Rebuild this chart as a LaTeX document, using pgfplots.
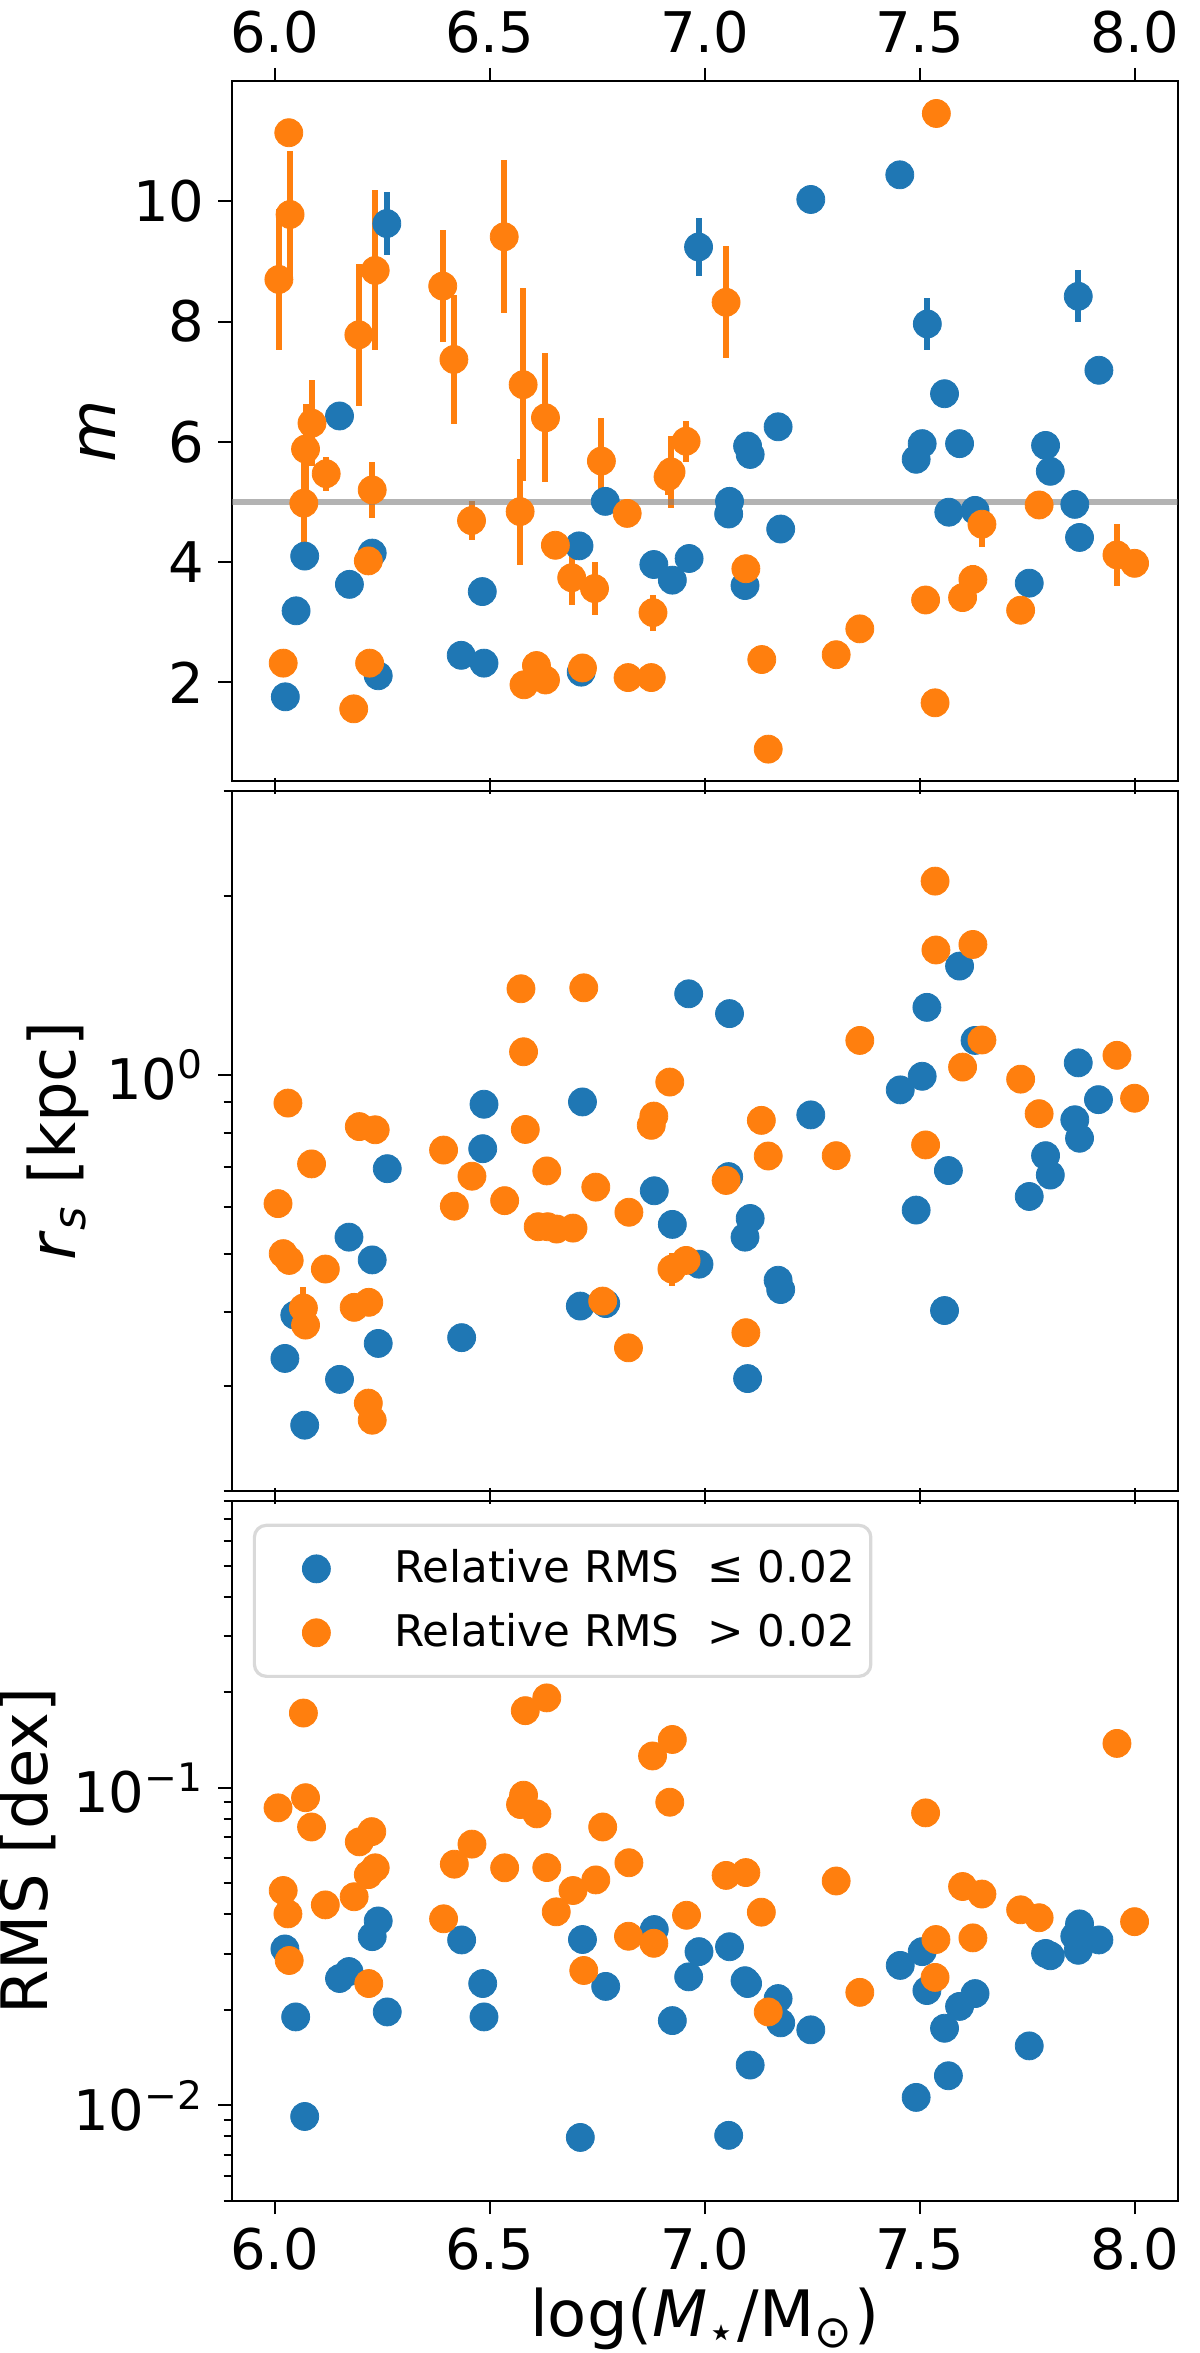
\documentclass[border=0pt]{standalone}
\usepackage{fontspec}
\setmainfont{DejaVu Sans}
\usepackage{pgfplots}
\pgfplotsset{compat=1.18}
\usepgfplotslibrary{groupplots}
\usetikzlibrary{calc}
\definecolor{cblue}{HTML}{1F77B4}
\definecolor{corange}{HTML}{FF7F0E}

\pgfplotstableread{
x y e
6.025 1.76 0
6.050 3.19 0
6.070 4.10 0
6.151 6.43 0
6.174 3.63 0
6.227 4.15 0
6.241 2.11 0
6.261 9.63 0.53
6.434 2.45 0
6.483 3.51 0
6.487 2.32 0
6.708 4.27 0
6.713 2.17 0
6.769 5.01 0
6.882 3.96 0
6.925 3.70 0
6.964 4.06 0
6.986 9.24 0.48
7.056 4.80 0
7.058 5.01 0
7.094 3.61 0
7.100 5.93 0
7.106 5.79 0
7.171 6.25 0
7.177 4.55 0
7.247 10.03 0
7.454 10.44 0
7.492 5.71 0
7.506 5.97 0
7.518 7.96 0.44
7.558 6.80 0
7.568 4.83 0
7.593 5.97 0
7.629 4.86 0
7.755 3.65 0
7.793 5.94 0
7.804 5.51 0
7.861 4.96 0
7.869 8.42 0.43
7.872 4.41 0
7.917 7.19 0.13
}\mblue

\pgfplotstableread{
x y e
6.010 8.70 1.17
6.020 2.32 0
6.033 11.14 0
6.036 9.78 1.05
6.068 4.98 0.68
6.072 5.88 0.75
6.087 6.31 0.72
6.120 5.47 0.28
6.184 1.56 0
6.196 7.78 1.18
6.218 4.02 0
6.221 2.32 0
6.227 5.20 0.47
6.234 8.85 1.33
6.391 8.59 0.93
6.417 7.37 1.07
6.458 4.69 0.33
6.534 9.41 1.27
6.571 4.84 0.88
6.578 6.95 1.60
6.580 1.96 0
6.609 2.28 0
6.630 6.40 1.07
6.630 2.04 0
6.653 4.28 0
6.691 3.74 0.46
6.716 2.24 0
6.744 3.56 0.44
6.760 5.68 0.72
6.820 4.81 0
6.822 2.08 0
6.876 2.08 0
6.880 3.16 0.30
6.915 5.42 0.30
6.922 5.50 0.60
6.957 6.01 0.34
7.050 8.32 0.93
7.096 3.89 0
7.133 2.38 0
7.148 0.89 0
7.306 2.46 0
7.361 2.89 0
7.514 3.37 0
7.536 1.66 0
7.539 11.46 0
7.600 3.41 0
7.624 3.71 0.25
7.645 4.63 0.38
7.735 3.20 0
7.778 4.95 0
7.959 4.12 0.52
8.000 3.98 0
}\morange

\pgfplotstableread{
x y
6.024 0.334
6.047 0.395
6.070 0.258
6.151 0.308
6.173 0.534
6.227 0.489
6.241 0.354
6.262 0.696
6.435 0.362
6.487 0.893
6.484 0.752
6.711 0.409
6.716 0.901
6.770 0.413
6.883 0.639
6.925 0.561
6.963 1.369
6.987 0.481
7.056 0.675
7.058 1.268
7.094 0.534
7.100 0.309
7.106 0.574
7.171 0.452
7.177 0.436
7.247 0.857
7.455 0.944
7.492 0.593
7.506 0.995
7.517 1.299
7.558 0.402
7.567 0.691
7.593 1.524
7.629 1.143
7.755 0.625
7.793 0.732
7.804 0.679
7.861 0.841
7.869 1.048
7.872 0.783
7.916 0.909
}\rblue

\pgfplotstableread{
x y e
6.031 0.897 0
6.008 0.608 0
6.020 0.501 0
6.034 0.488 0
6.086 0.709 0
6.118 0.472 0
6.067 0.406 0.035
6.072 0.380 0
6.197 0.819 0
6.234 0.809 0
6.185 0.407 0
6.219 0.415 0
6.218 0.281 0
6.227 0.263 0
6.393 0.748 0
6.418 0.602 0
6.459 0.676 0
6.535 0.615 0
6.573 1.396 0
6.579 1.094 0
6.583 0.810 0
6.633 0.690 0
6.613 0.556 0
6.635 0.556 0
6.656 0.551 0
6.694 0.553 0
6.719 1.401 0
6.747 0.648 0
6.763 0.417 0
6.824 0.588 0
6.823 0.348 0
6.919 0.973 0
6.882 0.853 0
6.876 0.823 0
6.924 0.472 0.03
6.957 0.488 0
7.132 0.839 0
7.148 0.731 0
7.050 0.665 0
7.096 0.369 0
7.306 0.732 0
7.361 1.143 0
7.536 2.117 0
7.538 1.622 0
7.624 1.657 0
7.645 1.145 0
7.600 1.031 0
7.514 0.763 0
7.735 0.984 0
7.778 0.861 0
7.959 1.079 0
8.000 0.914 0
}\rorange

\pgfplotstableread{
x y
6.024 0.0311
6.049 0.0190
6.070 0.00923
6.151 0.0251
6.173 0.0264
6.227 0.0340
6.241 0.0381
6.262 0.0197
6.435 0.0332
6.484 0.0242
6.487 0.0190
6.711 0.00793
6.716 0.0333
6.770 0.0237
6.883 0.0358
6.925 0.0185
6.963 0.0254
6.987 0.0305
7.056 0.00805
7.058 0.0316
7.094 0.0247
7.100 0.0242
7.106 0.0134
7.171 0.0217
7.177 0.0182
7.247 0.0173
7.455 0.0276
7.492 0.0106
7.506 0.0305
7.517 0.0230
7.558 0.0175
7.567 0.0124
7.593 0.0205
7.629 0.0225
7.755 0.0154
7.793 0.0301
7.804 0.0296
7.861 0.0341
7.869 0.0308
7.872 0.0373
7.917 0.0332
}\sblue

\pgfplotstableread{
x y
6.008 0.0865
6.067 0.172
6.072 0.0931
6.086 0.0753
6.020 0.0475
6.031 0.0401
6.034 0.0286
6.118 0.0428
6.185 0.0454
6.197 0.0676
6.226 0.0728
6.218 0.0533
6.234 0.0560
6.219 0.0242
6.393 0.0387
6.418 0.0575
6.459 0.0665
6.535 0.0560
6.583 0.175
6.633 0.192
6.579 0.0948
6.572 0.0886
6.610 0.0828
6.633 0.0561
6.655 0.0407
6.694 0.0475
6.747 0.0513
6.763 0.0753
6.719 0.0266
6.824 0.0581
6.823 0.0341
6.879 0.126
6.925 0.142
6.919 0.0901
7.050 0.0530
7.096 0.0541
7.132 0.0406
6.958 0.0397
6.882 0.0324
7.148 0.0197
7.306 0.0509
7.361 0.0227
7.514 0.0834
7.600 0.0489
7.645 0.0463
7.538 0.0333
7.624 0.0337
7.536 0.0253
7.735 0.0413
7.778 0.0390
7.959 0.138
8.000 0.0379
}\sorange

\pgfplotsset{
  bpts/.style={only marks, mark=*, mark size=3.5pt,
    mark options={draw=cblue, fill=cblue, line width=0.2pt}},
  opts/.style={only marks, mark=*, mark size=3.5pt,
    mark options={draw=corange, fill=corange, line width=0.2pt}},
}

\begin{document}
\begin{tikzpicture}
\begin{groupplot}[
  group style={group size=1 by 3, vertical sep=2.5pt},
  width=236.5pt, height=175pt, scale only axis,
  xmin=5.9, xmax=8.1,
  xtick={6,6.5,7,7.5,8},
  xticklabels={6.0,6.5,7.0,7.5,8.0},
  xtick pos=both, ytick pos=left,
  tick align=outside,
  major tick length=3.3pt, minor tick length=2pt,
  every tick/.style={black, line width=0.5pt},
  axis line style={line width=0.5pt},
  tick label style={font=\fontsize{14}{16}\selectfont},
  label style={font=\fontsize{16}{19}\selectfont},
  ylabel shift=-2.5pt,
  xlabel shift=-2.5pt,
  /pgf/number format/assume math mode=true,
  clip=true,
]
% ---- top panel: m ----
\nextgroupplot[
  ymin=0.36, ymax=12.0,
  ytick={2,4,6,8,10},
  xticklabel pos=right,
  ylabel={\textit{m}},
]
\addplot[bpts, error bars/.cd, y dir=both, y explicit,
  error bar style={line width=1.5pt, cblue}, error mark=none]
  table[x=x, y=y, y error=e] {\mblue};
\addplot[opts, error bars/.cd, y dir=both, y explicit,
  error bar style={line width=1.5pt, corange}, error mark=none]
  table[x=x, y=y, y error=e] {\morange};
\addplot[gray, opacity=0.6, line width=1.5pt] coordinates {(5.9,5) (8.1,5)};

% ---- middle panel: r_s ----
\nextgroupplot[
  ymode=log, ymin=0.2, ymax=3.0,
  ytick={1}, yticklabels={10\textsuperscript{0}},
  minor ytick={0.2,0.3,0.4,0.5,0.6,0.7,0.8,0.9,2,3},
  xticklabels={},
  ylabel={\textit{r}\textsubscript{\textit{s}} [kpc]},
]
\addplot[bpts] table[x=x, y=y] {\rblue};
\addplot[opts, error bars/.cd, y dir=both, y explicit,
  error bar style={line width=1.5pt, corange}, error mark=none]
  table[x=x, y=y, y error=e] {\rorange};

% ---- bottom panel: RMS ----
\nextgroupplot[
  ymode=log, ymin=0.005, ymax=0.8,
  ytick={0.01,0.1}, yticklabels={10\textsuperscript{−2},10\textsuperscript{−1}},
  minor ytick={0.005,0.006,0.007,0.008,0.009,0.02,0.03,0.04,0.05,0.06,0.07,0.08,0.09,0.2,0.3,0.4,0.5,0.6,0.7,0.8},
  ylabel={RMS [dex]},
  xlabel={log(\textit{M}\textsubscript{⋆}/M\textsubscript{⊙})},
  legend style={at={(0.0224,0.9676)}, anchor=north west,
    draw=black!15, line width=0.8pt, rounded corners=3pt,
    fill=white,
    font=\fontsize{10.9}{13}\selectfont, row sep=2.2pt,
    inner xsep=2pt, inner ysep=4pt},
  legend image code/.code={%
    \path[draw=none, fill=none] (0pt,-4pt) rectangle (31pt,4pt);
    \draw[#1] plot coordinates {(13.5pt,0pt)};},
  legend cell align=left,
]
\addplot[bpts] table[x=x, y=y] {\sblue};
\addlegendentry{Relative RMS \ ≤ 0.02}
\addplot[opts] table[x=x, y=y] {\sorange};
\addlegendentry{Relative RMS \ > 0.02}
\end{groupplot}
\pgfresetboundingbox
\path ($(group c1r1.north west)+(-57.9pt,20.25pt)$) rectangle ($(group c1r3.south east)+(5.6pt,-38pt)$);
\end{tikzpicture}
\end{document}
